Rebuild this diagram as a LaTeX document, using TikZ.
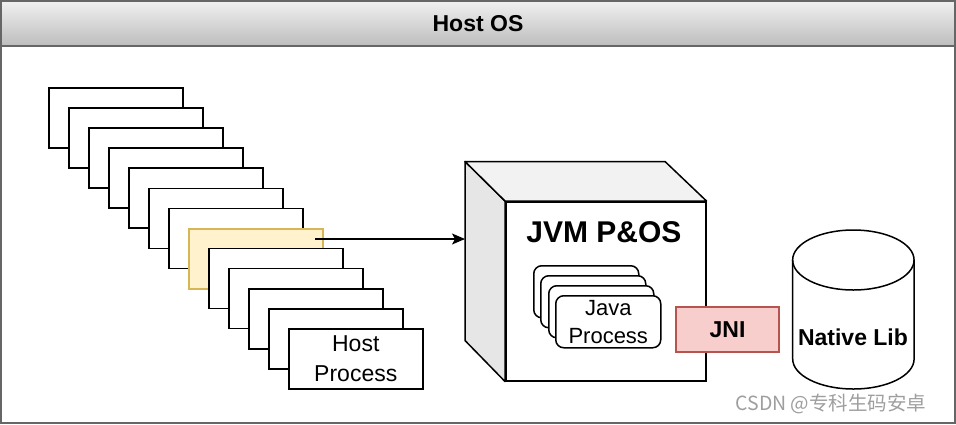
\documentclass[tikz,border=0pt]{standalone}
\usepackage{fontspec}
\setmainfont{Liberation Sans}
\newfontfamily\cjk{Noto Sans CJK SC}
\usepackage{tikz}
\usetikzlibrary{arrows.meta,calc}
\definecolor{frameGray}{HTML}{666666}
\definecolor{hdrTop}{HTML}{F0F0F0}
\definecolor{hdrBot}{HTML}{BDBDBD}
\definecolor{sideGray}{HTML}{E6E6E6}
\definecolor{topGray}{HTML}{F2F2F2}
\definecolor{yellowFill}{HTML}{FFF2CC}
\definecolor{yellowLine}{HTML}{D6B656}
\definecolor{redFill}{HTML}{F8CECC}
\definecolor{redLine}{HTML}{B85450}
\tikzset{proc/.style={draw, fill=white, line width=1.5pt, minimum width=134pt, minimum height=60pt, anchor=north west, inner sep=0pt, align=center, font=\fontsize{23}{30}\selectfont}, jproc/.style={draw, fill=white, line width=1.5pt, rounded corners=8pt, minimum width=105pt, minimum height=52pt, anchor=north west, inner sep=0pt, align=center, font=\fontsize{22}{28}\selectfont}, bigtext/.style={font=\bfseries\fontsize{23}{26}\selectfont}}

\begin{document}
\begin{tikzpicture}[x=1pt,y=-1pt]
\useasboundingbox (0,0) rectangle (956,424);
%header
\shade[top color=hdrTop, bottom color=hdrBot] (1,1) rectangle (955,46);
\node[bigtext] (hdr) at (478,24) {Host OS};
%host processes
\foreach \i in {0,...,6}
  \node[proc] (p\i) at (48+20*\i, 87+20.1*\i) {};
\node[proc, fill=yellowFill, draw=yellowLine] (p7) at (188,228) {};
\foreach \i in {8,...,11}
  \node[proc] (p\i) at (48+20*\i, 87+20.1*\i) {};
\node[proc] (p12) at (288,328) {Host\\Process};
%jvm cube
\node[draw, fill=white, line width=1.5pt, minimum width=200pt, minimum height=179pt, anchor=north west, inner sep=0pt] (jvm) at (505,201) {};
\filldraw[fill=sideGray, line width=1.5pt, line join=round] (jvm.north west) -- ++(-40,-39.5) -- ++(0,179) -- (jvm.south west) -- cycle;
\filldraw[fill=topGray, line width=1.5pt, line join=round] (jvm.north west) -- ++(-40,-39.5) -- ++(200,0) -- (jvm.north east) -- cycle;
\node[font=\bfseries\fontsize{30}{32}\selectfont] (jvmlbl) at (604,232) {JVM P\&OS};
\foreach \i/\x/\y in {1/533/265, 2/540/275, 3/548/285}
  \node[jproc] (jp\i) at (\x,\y) {};
\node[jproc] (jp4) at (555,295) {Java\\Process};
\node[draw=redLine, fill=redFill, line width=1.5pt, minimum width=103pt, minimum height=45pt, inner sep=0pt, bigtext] (jni) at (727.5,329.5) {JNI};
%arrow
\coordinate (src) at (315,239);
\coordinate (dst) at (465,239);
\draw[line width=1.3pt, -{Stealth[length=13pt,width=11pt,inset=3pt]}] (src) -- (dst);
%native lib
\draw[line width=1.5pt] (792.7,260) -- (792.7,359) arc[start angle=180, end angle=0, x radius=60.7, y radius=30] -- (914,260);
\draw[line width=1.5pt] (853.35,260) ellipse (60.7 and 30);
\node[bigtext] (lib) at (853,337) {Native Lib};
%watermark
\node[text=black!38, font=\cjk\fontsize{19.5}{21}\selectfont] (wm) at (831,404) {CSDN @专科生码安卓};
%frame
\draw[frameGray, line width=2pt] (1,1) rectangle (955,423);
\draw[frameGray, line width=2pt] (1,46) -- (955,46);
\end{tikzpicture}
\end{document}
